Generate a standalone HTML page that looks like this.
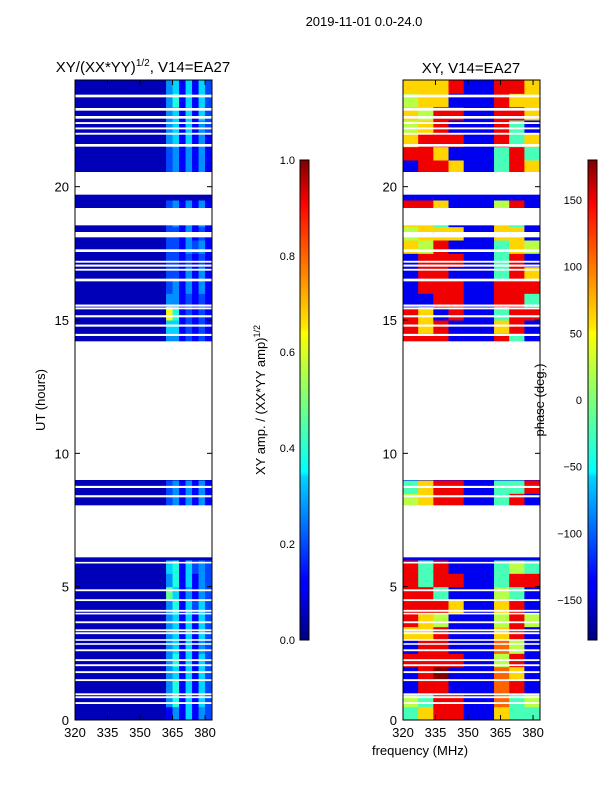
<!DOCTYPE html>
<html><head><meta charset="utf-8"><style>
body{margin:0;background:#fff;width:600px;height:800px;overflow:hidden}
svg text{font-family:"Liberation Sans",sans-serif;fill:#000}
</style></head><body>
<svg id="fig" width="600" height="800" xmlns="http://www.w3.org/2000/svg">
<defs><linearGradient id="jet" x1="0" y1="1" x2="0" y2="0">
<stop offset="0" stop-color="#00007f"/><stop offset="0.11" stop-color="#0000ff"/><stop offset="0.125" stop-color="#0000ff"/><stop offset="0.34" stop-color="#00d4ff"/><stop offset="0.35" stop-color="#0ff"/><stop offset="0.5" stop-color="#7dff7a"/><stop offset="0.64" stop-color="#ff0"/><stop offset="0.65" stop-color="#ffea00"/><stop offset="0.89" stop-color="#ff1400"/><stop offset="0.91" stop-color="#f00"/><stop offset="1" stop-color="#7f0000"/></linearGradient></defs>
<text x="364" y="26" font-size="13" text-anchor="middle">2019-11-01 0.0-24.0</text>
<text x="143" y="72" font-size="15" text-anchor="middle">XY/(XX*YY)<tspan font-size="10" dy="-6">1/2</tspan><tspan dy="6">, V14=EA27</tspan></text>
<text x="471" y="73" font-size="15" text-anchor="middle">XY, V14=EA27</text>
<g id="amp"></g>
<g id="ph"></g>
<g id="axes"></g>
<text transform="translate(45,400) rotate(-90)" font-size="13" text-anchor="middle">UT (hours)</text>
<text x="420" y="755" font-size="13" text-anchor="middle">frequency (MHz)</text>
<rect x="300" y="160" width="9" height="480" fill="url(#jet)" stroke="#000" stroke-width="1"/>
<rect x="588" y="160" width="9" height="480" fill="url(#jet)" stroke="#000" stroke-width="1"/>
<text transform="translate(265,400) rotate(-90)" font-size="13" text-anchor="middle">XY amp. / (XX*YY amp)<tspan font-size="9" dy="-5">1/2</tspan></text>
<text transform="translate(544,400) rotate(-90)" font-size="13" text-anchor="middle">phase (deg.)</text>
</svg>
<script>
const timeRowsH = 0.5;
const ampFreqBins = [320,323,326,329,332,335,338,341,344,347,350,353,356,359,362,365,368,371,374,377,380,383];
const phaseFreqBins = [320,327,334,341,348,355,362,369,376,383];
const ampRows = [
"000000000000001314132","000000000000003514142","000000000000003514142","000000000000003414142",
"000000000000003514142","000000000000003414132","000000000000003414142","000000000000003414142",
"000000000000003514242","000000000000006413132","000000000000003514132","000000000000004514232",
"000000000000000000000","000000000000000000000","000000000000000000000","000000000000001212121",
"000000000000002313131","000000000000002313131","000000000000000000000","000000000000000000000",
"000000000000000000000","000000000000000000000","000000000000000000000","000000000000000000000",
"000000000000000000000","000000000000000000000","000000000000000000000","000000000000000000000",
"000000000000003312121","000000000000004412121","000000000000008512121","000000000000003312121",
"000000000000002313131","000000000000002213131","000000000000002212121","000000000000002213231",
"000000000000002213121","000000000000002313131","000000000000002313131","000000000000000000000",
"000000000000000000000","000000000000002313131","000000000000002313131","000000000000003414131",
"000000000000003414132","000000000000003414142","000000000000003514142","000000000000003414142"];
const phaseRows = [
"468811644","548811745","188111781","189111761","888811581","188111751","668111681","865111585",
"888611681","884111541","848811488","848111454","111111111","111111111","111111111","111111111",
"568811481","468811448","111111111","111111111","111111111","111111111","111111111","111111111",
"111111111","111111111","111111111","111111111","888111841","868111681","861811488","118811884",
"188811888","188111486","188811481","658111465","566611661","664111641","886111581","111111111",
"111111111","188611486","886111484","688811846","568111841","658811886","566111866","666811886"];
const gaps = [[23.35,23.45],[22.85,22.95],[22.55,22.65],[22.35,22.42],[22.15,22.22],[21.95,22.02],[21.5,21.6],[19.7,20.55],[18.55,19.2],[18.1,18.3],[17.55,17.65],[17.15,17.22],[17.0,17.08],[16.85,16.92],[16.45,16.55],[15.5,15.58],[15.4,15.47],[15.1,15.18],[14.75,14.83],[14.4,14.48],[9.0,14.2],[8.7,8.78],[8.35,8.43],[7.8,8.05],[6.1,7.8],[5.87,5.93],[4.83,4.9],[4.46,4.53],[4.06,4.13],[3.96,4.02],[3.63,3.7],[3.33,3.4],[3.22,3.29],[2.97,3.03],[2.82,2.88],[2.58,2.65],[2.21,2.28],[2.02,2.09],[1.76,1.83],[1.46,1.53],[0.93,1.0],[0.82,0.89],[0.6,0.67]];
const yTicks = [0,5,10,15,20];
const xTicks = [320,335,350,365,380];
const ampCbTicks = ["0.0","0.2","0.4","0.6","0.8","1.0"];
const phCbTicks = [-150,-100,-50,0,50,100,150];

const NS="http://www.w3.org/2000/svg";
const Y0=720,Y1=80,T0=0,T1=24,F0=320,F1=383.2;
const yS=h=>Y0+(h-T0)/(T1-T0)*(Y1-Y0);
const xS=(f,x0)=>x0+(f-F0)/(F1-F0)*137;
function jet(v){v=Math.max(0,Math.min(1,v));
 const c=t=>Math.round(255*Math.max(0,Math.min(1,1.5-Math.abs(4*v-t))));
 return `rgb(${c(3)},${c(2)},${c(1)})`;}
function el(tag,attrs,parent){const e=document.createElementNS(NS,tag);for(const k in attrs)e.setAttribute(k,attrs[k]);parent.appendChild(e);return e;}
const amp=document.getElementById('amp'),ph=document.getElementById('ph'),ax=document.getElementById('axes');
ampRows.forEach((row,i)=>{for(let j=0;j<row.length;j++){
 const v=0.055+(+row[j])*0.07;
 const r=el('rect',{x:xS(ampFreqBins[j],75),y:yS((i+1)*timeRowsH),width:xS(ampFreqBins[j+1],75)-xS(ampFreqBins[j],75)+0.5,height:yS(i*timeRowsH)-yS((i+1)*timeRowsH)+0.5,fill:jet(v)},amp);
 
 }});
phaseRows.forEach((row,i)=>{for(let j=0;j<row.length;j++){
 const deg=-180+(+row[j])*40;
 const r=el('rect',{x:xS(phaseFreqBins[j],403),y:yS((i+1)*timeRowsH),width:xS(phaseFreqBins[j+1],403)-xS(phaseFreqBins[j],403)+0.5,height:yS(i*timeRowsH)-yS((i+1)*timeRowsH)+0.5,fill:jet((deg+180)/360)},ph);
 
 }});
[75,403].forEach(x0=>{
 gaps.forEach(g=>{const r=el('rect',{x:x0,y:yS(g[1]),width:137,height:yS(g[0])-yS(g[1]),fill:'#fff'},ax);
  
  });
 const f=el('rect',{x:x0,y:80,width:137,height:640,fill:'none',stroke:'#000','stroke-width':1},ax);
 
 
 yTicks.forEach(t=>{const y=yS(t);
  el('line',{x1:x0,x2:x0+5,y1:y,y2:y,stroke:'#000'},ax);el('line',{x1:x0+137,x2:x0+132,y1:y,y2:y,stroke:'#000'},ax);
  const tx=el('text',{x:x0-6,y:y+5,'font-size':13,'text-anchor':'end'},ax);tx.textContent=t;
  
  });
 xTicks.forEach(t=>{const x=xS(t,x0);
  el('line',{x1:x,x2:x,y1:720,y2:715,stroke:'#000'},ax);el('line',{x1:x,x2:x,y1:80,y2:85,stroke:'#000'},ax);
  const tx=el('text',{x:x,y:737,'font-size':13,'text-anchor':'middle'},ax);tx.textContent=t;
  
  });
});
ampCbTicks.forEach((t,i)=>{const y=640-(+t)*480;
 el('line',{x1:300,x2:303,y1:y,y2:y,stroke:'#000'},ax);
 const tx=el('text',{x:295,y:y+4,'font-size':11,'text-anchor':'end'},ax);tx.textContent=t;
 
 });
phCbTicks.forEach(t=>{const y=640-(t+180)/360*480;
 el('line',{x1:588,x2:591,y1:y,y2:y,stroke:'#000'},ax);
 const tx=el('text',{x:582,y:y+4,'font-size':11,'text-anchor':'end'},ax);tx.textContent=t<0?'\u2212'+(-t):t;
 
 });
</script>
</body></html>
